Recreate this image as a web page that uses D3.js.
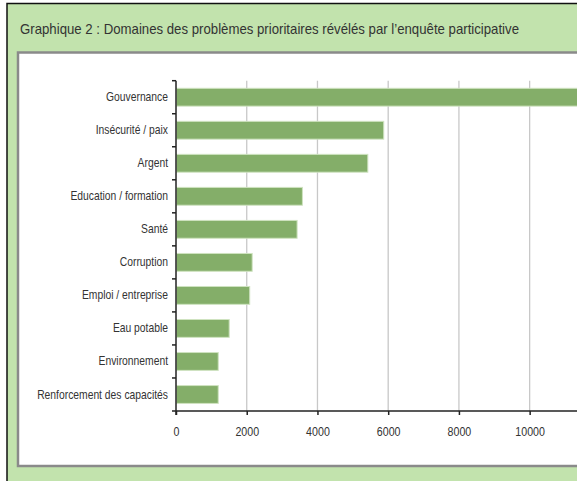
<!DOCTYPE html>
<html>
<head>
<meta charset="utf-8">
<script src="https://d3js.org/d3.v7.min.js"></script>
<style>
    body { margin: 0; background: #fff; overflow: hidden; }
    svg { display: block; }
    .lbl { font-family: "Liberation Sans", Arial, sans-serif; fill: #333; }
</style>
</head>
<body>
<div id="chart"></div>
<script>
    var title = "Graphique 2 : Domaines des problèmes prioritaires révélés par l\u2019enquête participative";
    var categories = ["Gouvernance", "Insécurité / paix", "Argent", "Education / formation", "Santé",
        "Corruption", "Emploi / entreprise", "Eau potable", "Environnement", "Renforcement des capacités"];
    var values = [11700, 5860, 5410, 3560, 3410, 2140, 2070, 1490, 1180, 1180];
    var xTicks = [0, 2000, 4000, 6000, 8000, 10000];

    var W = 577, H = 481;
    var narrow = 0.82; // squeeze to look like a condensed face
    var svg = d3.select("#chart").append("svg")
        .attr("width", W)
        .attr("height", H);

    // frame: black outer line, green panel, white plot box with gray border
    svg.append("rect").attr("x", 7).attr("y", 3.5).attr("width", W).attr("height", H)
        .attr("fill", "#c2e3ad").attr("stroke", "#111").attr("stroke-width", 1.5);
    svg.append("rect").attr("x", 18).attr("y", 52.5).attr("width", W).attr("height", 413.5)
        .attr("fill", "#fff").attr("stroke", "#8a8a8a").attr("stroke-width", 2.5);

    svg.append("text")
        .attr("class", "lbl")
        .attr("x", 20).attr("y", 33.5)
        .attr("font-size", 14.5)
        .attr("fill", "#222")
        .attr("textLength", 499)
        .attr("lengthAdjust", "spacingAndGlyphs")
        .text(title);

    var x0 = 176, y0 = 80.7, y1 = 411;
    var x = d3.scaleLinear().domain([0, 12000]).range([x0, x0 + 12000 * 0.035365]);
    var y = d3.scaleBand().domain(categories).range([y0, y1])
        .paddingInner(0.46).paddingOuter(0.23);

    var g = svg.append("g");

    // gridlines
    g.selectAll(".grid").data(xTicks.slice(1)).enter().append("line")
        .attr("x1", function(d) { return x(d); })
        .attr("x2", function(d) { return x(d); })
        .attr("y1", y0).attr("y2", y1)
        .attr("stroke", "#c8c8c8").attr("stroke-width", 1.3);

    // bars
    g.selectAll(".bar").data(values).enter().append("rect")
        .attr("x", x(0) + 0.5)
        .attr("y", function(d, i) { return y(categories[i]); })
        .attr("width", function(d) { return x(d) - x(0); })
        .attr("height", y.bandwidth())
        .attr("fill", "#84ae69")
        .attr("stroke", "#cfe3c0").attr("stroke-width", 1);

    // y axis: labels at band centres, ticks at band boundaries
    var yAxis = g.append("g")
        .attr("transform", "translate(" + x0 + ",0)")
        .call(d3.axisLeft(y).tickSize(0));
    yAxis.select(".domain").remove();
    yAxis.selectAll("text")
        .attr("class", "lbl").attr("font-size", 12.6).attr("fill", "#333")
        .attr("x", -8 / narrow)
        .attr("transform", "scale(" + narrow + ",1)");
    var step = y.step();
    g.selectAll(".ytick").data(d3.range(categories.length + 1)).enter().append("line")
        .attr("x1", x0 - 4).attr("x2", x0)
        .attr("y1", function(i) { return y0 + i * step; })
        .attr("y2", function(i) { return y0 + i * step; })
        .attr("stroke", "#222").attr("stroke-width", 1.5);
    g.append("line").attr("x1", x0).attr("x2", x0).attr("y1", y0).attr("y2", y1 + 4)
        .attr("stroke", "#222").attr("stroke-width", 1.5);

    // x axis
    var xAxis = g.append("g")
        .attr("transform", "translate(0," + y1 + ")")
        .call(d3.axisBottom(x).tickValues(xTicks).tickFormat(d3.format("d")).tickSize(4).tickPadding(12));
    xAxis.select(".domain").attr("d", "M" + x0 + ",0H" + W).attr("stroke", "#222").attr("stroke-width", 1.5);
    xAxis.selectAll("line").attr("stroke", "#222").attr("stroke-width", 1.5);
    xAxis.selectAll("text")
        .attr("class", "lbl").attr("font-size", 13).attr("fill", "#333")
        .attr("transform", "scale(" + narrow + ",1)");
</script>
</body>
</html>
